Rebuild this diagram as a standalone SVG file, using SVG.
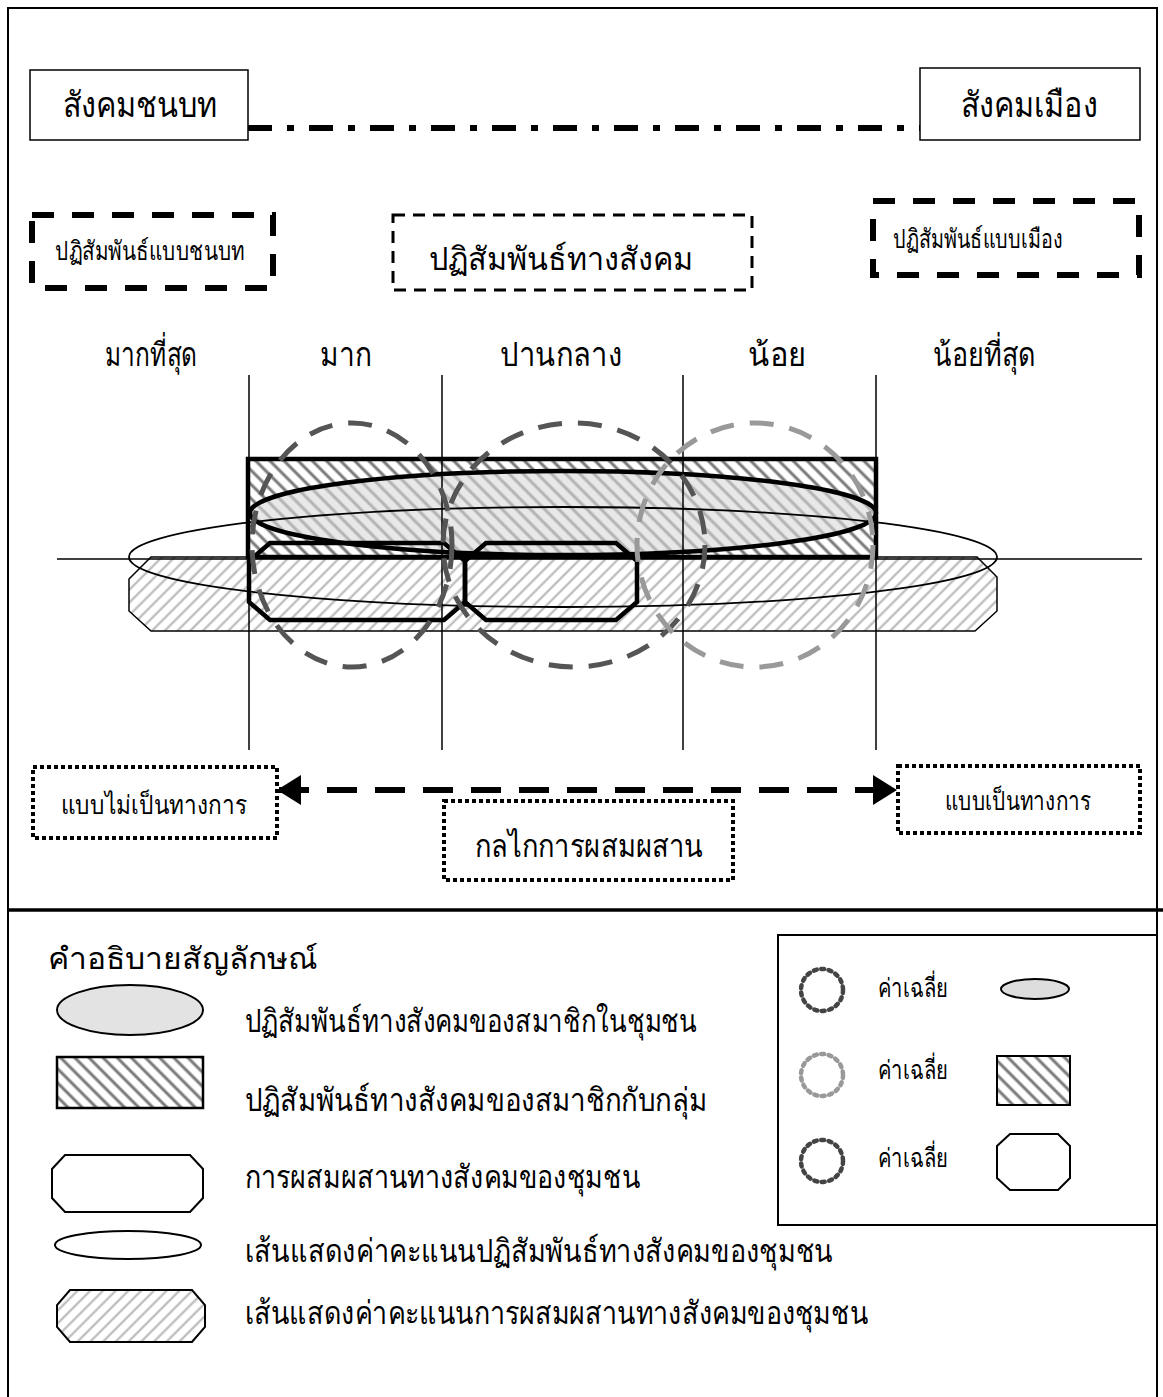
<svg xmlns="http://www.w3.org/2000/svg" width="1163" height="1397" viewBox="0 0 1163 1397">
<style>
.t{font-family:'DejaVu Sans','Noto Sans',sans-serif;fill:#000}
.box{fill:#fff;stroke:#000;stroke-width:1.5}
.thickdash{fill:none;stroke:#000;stroke-width:6;stroke-dasharray:22 18}
.finedash{fill:none;stroke:#000;stroke-width:3;stroke-dasharray:12 8}
.dotbox{fill:none;stroke:#000;stroke-width:4;stroke-dasharray:4 3}
.vline{stroke:#000;stroke-width:1.5}
.circD{fill:none;stroke:#555;stroke-width:5;stroke-dasharray:24 16}
.circL{fill:none;stroke:#999;stroke-width:5;stroke-dasharray:24 16}
.oct{fill:none;stroke:#000;stroke-width:4.5}
.dotC{fill:none;stroke-width:4.5;stroke-dasharray:3 4.5;stroke-linecap:round}
</style>
<defs>
<pattern id="hd" width="10" height="10" patternUnits="userSpaceOnUse" patternTransform="rotate(-45)">
<rect width="10" height="10" fill="#fff"/>
<line x1="5" y1="0" x2="5" y2="10" stroke="#7a7a7a" stroke-width="3"/>
</pattern>
<pattern id="hl" width="9" height="9" patternUnits="userSpaceOnUse" patternTransform="rotate(45)">
<rect width="9" height="9" fill="#fff"/>
<line x1="4.5" y1="0" x2="4.5" y2="9" stroke="#b4b4b4" stroke-width="2"/>
</pattern>
<marker id="ah" markerWidth="26" markerHeight="30" refX="22" refY="15" orient="auto-start-reverse" markerUnits="userSpaceOnUse">
<path d="M0,0 L24,15 L0,30 Z" fill="#000"/>
</marker>
</defs>

<g id="frame">
<rect x="8" y="8" width="1149" height="1395" fill="none" stroke="#000" stroke-width="2"/>
<line x1="8" y1="910" x2="1163" y2="910" stroke="#000" stroke-width="3.5"/>
</g>

<g id="connectors">
<line x1="248" y1="128" x2="920" y2="128" stroke="#000" stroke-width="6" stroke-dasharray="24 15 7 15"/>
<line x1="279" y1="790" x2="895" y2="790" stroke="#000" stroke-width="6" stroke-dasharray="30 18" marker-start="url(#ah)" marker-end="url(#ah)"/>
</g>

<g id="node-rural">
<rect class="box" x="30" y="70" width="218" height="70"/>
<text class="t" x="140" y="117" font-size="35" text-anchor="middle" textLength="155" lengthAdjust="spacingAndGlyphs">สังคมชนบท</text>
</g>
<g id="node-urban">
<rect class="box" x="920" y="68" width="220" height="72"/>
<text class="t" x="1029" y="117" font-size="35" text-anchor="middle" textLength="137" lengthAdjust="spacingAndGlyphs">สังคมเมือง</text>
</g>

<g id="node-rural-interaction">
<rect class="thickdash" x="32" y="215" width="241" height="73"/>
<text class="t" x="150" y="260" font-size="26" text-anchor="middle" textLength="190" lengthAdjust="spacingAndGlyphs">ปฏิสัมพันธ์แบบชนบท</text>
</g>
<g id="node-social-interaction">
<rect class="finedash" x="393" y="215" width="359" height="75"/>
<text class="t" x="561" y="270" font-size="32" text-anchor="middle" textLength="265" lengthAdjust="spacingAndGlyphs">ปฏิสัมพันธ์ทางสังคม</text>
</g>
<g id="node-urban-interaction">
<rect class="thickdash" x="873" y="201" width="266" height="74"/>
<text class="t" x="978" y="248" font-size="26" text-anchor="middle" textLength="170" lengthAdjust="spacingAndGlyphs">ปฏิสัมพันธ์แบบเมือง</text>
</g>

<g id="scale-labels">
<text class="t" x="151" y="366" font-size="33" text-anchor="middle" textLength="92" lengthAdjust="spacingAndGlyphs">มากที่สุด</text>
<text class="t" x="346" y="366" font-size="33" text-anchor="middle" textLength="52" lengthAdjust="spacingAndGlyphs">มาก</text>
<text class="t" x="561" y="366" font-size="33" text-anchor="middle" textLength="122" lengthAdjust="spacingAndGlyphs">ปานกลาง</text>
<text class="t" x="777" y="366" font-size="33" text-anchor="middle" textLength="58" lengthAdjust="spacingAndGlyphs">น้อย</text>
<text class="t" x="984" y="366" font-size="33" text-anchor="middle" textLength="102" lengthAdjust="spacingAndGlyphs">น้อยที่สุด</text>
</g>

<g id="chart">
<polygon points="151,557 977,557 997,577 997,611 975,631 151,631 129,611 129,579" fill="url(#hl)" stroke="#000" stroke-width="1.5"/>
<rect x="248" y="459" width="628" height="98" fill="url(#hd)" stroke="#000" stroke-width="4.5"/>
<ellipse cx="563" cy="513" rx="313" ry="42" fill="#d8d8d8" fill-opacity="0.6" stroke="#000" stroke-width="4.5"/>
<line class="vline" x1="249" y1="375" x2="249" y2="750"/>
<line class="vline" x1="442" y1="375" x2="442" y2="750"/>
<line class="vline" x1="683" y1="375" x2="683" y2="750"/>
<line class="vline" x1="876" y1="375" x2="876" y2="750"/>
<line class="vline" x1="57" y1="559" x2="1142" y2="559"/>
<ellipse cx="563" cy="557" rx="434" ry="50" fill="none" stroke="#000" stroke-width="1.8"/>
<polygon class="oct" points="270,543 444,543 465,561 465,602 444,620 270,620 249,602 249,561"/>
<polygon class="oct" points="486,543 616,543 637,561 637,602 616,620 486,620 465,602 465,561"/>
<ellipse class="circD" cx="352" cy="545" rx="100" ry="122"/>
<ellipse class="circD" cx="574" cy="545" rx="131" ry="122"/>
<ellipse class="circL" cx="755" cy="545" rx="118" ry="122"/>
</g>

<g id="node-informal">
<rect class="dotbox" x="33" y="767" width="244" height="71"/>
<text class="t" x="154" y="814" font-size="26" text-anchor="middle" textLength="187" lengthAdjust="spacingAndGlyphs">แบบไม่เป็นทางการ</text>
</g>
<g id="node-mechanism">
<rect class="dotbox" x="444" y="801" width="289" height="79"/>
<text class="t" x="589" y="857" font-size="32" text-anchor="middle" textLength="228" lengthAdjust="spacingAndGlyphs">กลไกการผสมผสาน</text>
</g>
<g id="node-formal">
<rect class="dotbox" x="898" y="766" width="242" height="67"/>
<text class="t" x="1018" y="810" font-size="26" text-anchor="middle" textLength="147" lengthAdjust="spacingAndGlyphs">แบบเป็นทางการ</text>
</g>

<g id="legend">
<text class="t" x="48" y="969" font-size="30" textLength="270" lengthAdjust="spacingAndGlyphs">คำอธิบายสัญลักษณ์</text>
<ellipse cx="130" cy="1010" rx="73" ry="25" fill="#e3e3e3" stroke="#000" stroke-width="2"/>
<text class="t" x="245" y="1032" font-size="32" textLength="452" lengthAdjust="spacingAndGlyphs">ปฏิสัมพันธ์ทางสังคมของสมาชิกในชุมชน</text>
<rect x="57" y="1057" width="146" height="51" fill="url(#hd)" stroke="#000" stroke-width="2.5"/>
<text class="t" x="245" y="1111" font-size="32" textLength="462" lengthAdjust="spacingAndGlyphs">ปฏิสัมพันธ์ทางสังคมของสมาชิกกับกลุ่ม</text>
<polygon points="65,1155 190,1155 203,1169 203,1198 190,1212 65,1212 52,1198 52,1169" fill="none" stroke="#000" stroke-width="2"/>
<text class="t" x="245" y="1188" font-size="32" textLength="395" lengthAdjust="spacingAndGlyphs">การผสมผสานทางสังคมของชุมชน</text>
<ellipse cx="128" cy="1245" rx="73" ry="14" fill="none" stroke="#000" stroke-width="2"/>
<text class="t" x="245" y="1262" font-size="32" textLength="588" lengthAdjust="spacingAndGlyphs">เส้นแสดงค่าคะแนนปฏิสัมพันธ์ทางสังคมของชุมชน</text>
<polygon points="70,1290 192,1290 205,1305 205,1327 192,1342 70,1342 57,1327 57,1305" fill="url(#hl)" stroke="#000" stroke-width="2"/>
<text class="t" x="245" y="1324" font-size="32" textLength="623" lengthAdjust="spacingAndGlyphs">เส้นแสดงค่าคะแนนการผสมผสานทางสังคมของชุมชน</text>
</g>

<g id="legend-average">
<rect x="778" y="935" width="379" height="290" fill="#fff" stroke="#000" stroke-width="2"/>
<circle class="dotC" cx="822" cy="990" r="21" stroke="#444"/>
<text class="t" x="878" y="997" font-size="26" textLength="70" lengthAdjust="spacingAndGlyphs">ค่าเฉลี่ย</text>
<ellipse cx="1035" cy="989" rx="34" ry="10" fill="#ddd" stroke="#000" stroke-width="2"/>
<circle class="dotC" cx="822" cy="1075" r="21" stroke="#999"/>
<text class="t" x="878" y="1079" font-size="26" textLength="70" lengthAdjust="spacingAndGlyphs">ค่าเฉลี่ย</text>
<rect x="997" y="1056" width="73" height="49" fill="url(#hd)" stroke="#000" stroke-width="2"/>
<circle class="dotC" cx="822" cy="1161" r="21" stroke="#444"/>
<text class="t" x="878" y="1167" font-size="26" textLength="70" lengthAdjust="spacingAndGlyphs">ค่าเฉลี่ย</text>
<polygon points="1010,1134 1058,1134 1070,1146 1070,1178 1058,1190 1010,1190 997,1178 997,1146" fill="#fff" stroke="#000" stroke-width="2"/>
</g>
</svg>
